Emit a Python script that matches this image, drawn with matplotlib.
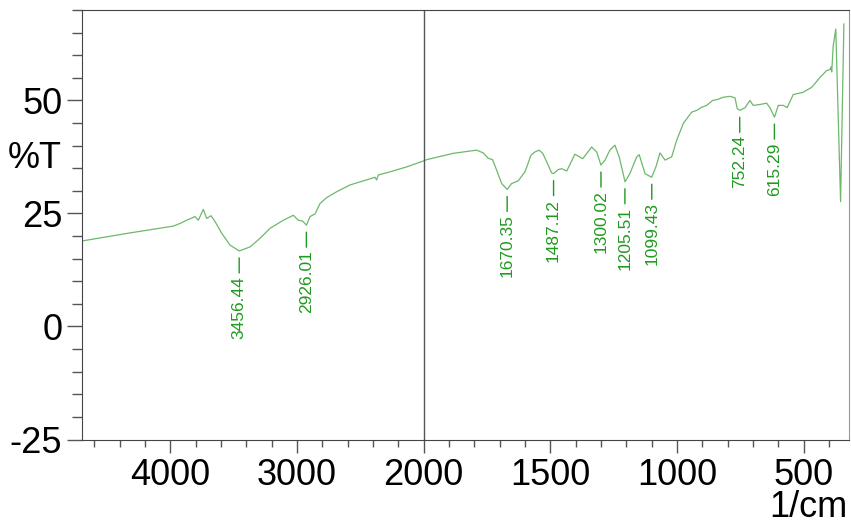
import numpy as np
import matplotlib
matplotlib.use('Agg')
import matplotlib.pyplot as plt
from matplotlib.ticker import FixedLocator

plt.rcParams['font.family'] = ['Liberation Sans', 'DejaVu Sans']
plt.rcParams['axes.unicode_minus'] = False

# spectrum (wavenumber 1/cm, %T)
wavenumber = [4700, 4318, 3976, 3923, 3871, 3805, 3779, 3740, 3713, 3679, 3647, 3594, 3529, 3456, 3371,
              3292, 3213, 3108, 3029, 2990, 2955, 2926, 2897, 2858, 2818, 2766, 2687, 2582, 2477, 2384,
              2371, 2358, 2266, 2134, 2003, 1988, 1883, 1791, 1765, 1745, 1728, 1712, 1692, 1670, 1653,
              1627, 1600, 1576, 1561, 1544, 1530, 1514, 1495, 1487, 1469, 1455, 1435, 1403, 1372, 1337,
              1317, 1300, 1284, 1265, 1245, 1228, 1205, 1186, 1159, 1149, 1126, 1100, 1083, 1067, 1047,
              1021, 1001, 975, 942, 922, 902, 883, 859, 841, 817, 791, 771, 762, 752, 731,
              712, 699, 672, 646, 633, 615, 600, 580, 565, 541, 502, 468, 435, 409, 396,
              392, 389, 383, 373, 354, 341]
transmittance = [18.9, 20.7, 22.2, 22.8, 23.5, 24.3, 23.5, 25.9, 23.9, 24.5, 23.2, 20.6, 18.0, 16.7, 17.6,
                 19.5, 21.7, 23.5, 24.6, 23.5, 23.3, 22.4, 24.3, 24.9, 27.2, 28.5, 29.8, 31.3, 32.2, 33.0,
                 32.4, 33.5, 34.2, 35.3, 36.6, 36.9, 38.3, 39.0, 38.4, 37.2, 36.9, 34.6, 31.6, 30.3, 31.6,
                 32.2, 34.2, 37.9, 38.6, 39.0, 38.3, 36.4, 34.0, 33.8, 34.7, 34.9, 34.4, 38.1, 37.1, 39.7,
                 38.6, 35.7, 36.8, 39.0, 40.1, 37.5, 32.0, 33.8, 37.5, 38.0, 33.8, 33.0, 35.3, 38.4, 36.8,
                 37.5, 41.2, 44.9, 47.4, 47.8, 48.5, 48.9, 50.0, 50.2, 50.7, 50.9, 50.6, 48.2, 47.8, 48.4,
                 50.0, 48.9, 49.1, 49.4, 48.4, 46.3, 48.9, 48.9, 48.4, 51.3, 51.8, 52.9, 55.1, 56.6, 56.8,
                 57.4, 56.3, 62.1, 65.8, 27.6, 66.9]

# labelled peaks
peak_wn = [3456.44, 2926.01, 1670.35, 1487.12, 1300.02, 1205.51, 1099.43, 752.24, 615.29]
peak_T = [16.7, 22.4, 30.3, 33.8, 35.7, 32.0, 33.0, 47.8, 46.3]

x_major = [4000, 3000, 2000, 1500, 1000, 500]
y_major = [-25, 0, 25, 50]


# axis is compressed by half above 2000 1/cm
def fwd(x):
    x = np.asarray(x, dtype=float)
    return np.where(x > 2000, 2000 + (x - 2000) / 2.0, x)


def inv(y):
    y = np.asarray(y, dtype=float)
    return np.where(y > 2000, 2000 + (y - 2000) * 2.0, y)


fig = plt.figure(figsize=(8.51, 5.26), dpi=100)
ax = fig.add_axes([81.7 / 851, 1 - 439.5 / 526, 767.5 / 851, 429.5 / 526])
ax.set_xscale('function', functions=(fwd, inv))

ax.plot(wavenumber, transmittance, color='#6cb86c', lw=0.9)
ax.axvline(2000, color='#555555', lw=1.0)

# marker line a few pixels under each peak, label below it
pk_col = '#1f9a1f'
for w, t in zip(peak_wn, peak_T):
    ax.annotate('', xy=(w, t), xytext=(0, -22), textcoords='offset pixels',
                arrowprops=dict(arrowstyle='-', color=pk_col, lw=1.0, shrinkA=0, shrinkB=5))
    ax.annotate('%.2f' % w, xy=(w, t), xytext=(0, -25), textcoords='offset pixels',
                rotation=90, ha='center', va='top', fontsize=12.5, color=pk_col)

ax.set_xlim(4700, 320)
ax.set_ylim(-25, 70)

minor_x = [w for w in list(range(4600, 2000, -200)) + list(range(1900, 320, -100)) if w not in x_major]
ax.xaxis.set_major_locator(FixedLocator(x_major))
ax.xaxis.set_minor_locator(FixedLocator(minor_x))
ax.set_xticklabels([str(v) for v in x_major])
ax.yaxis.set_major_locator(FixedLocator(y_major))
ax.yaxis.set_minor_locator(FixedLocator([v for v in range(-20, 71, 5) if v not in y_major]))

ax.tick_params(axis='both', which='major', labelsize=26, color='#555555')
ax.tick_params(axis='x', which='major', length=9, width=1, pad=4)
ax.tick_params(axis='x', which='minor', length=5, width=1, color='#555555')
ax.tick_params(axis='y', which='major', length=11, width=1, pad=3)
ax.tick_params(axis='y', which='minor', length=7, width=1, color='#555555')

for side in ['left', 'bottom', 'top']:
    ax.spines[side].set_color('#444444')
ax.spines['right'].set_color('#999999')

fig.text(62 / 851, 1 - 158 / 526, '%T', fontsize=26, ha='right', va='center')
fig.text(847 / 851, 1 / 526, '1/cm', fontsize=26, ha='right', va='bottom')

fig.savefig('out.png', dpi=100)
